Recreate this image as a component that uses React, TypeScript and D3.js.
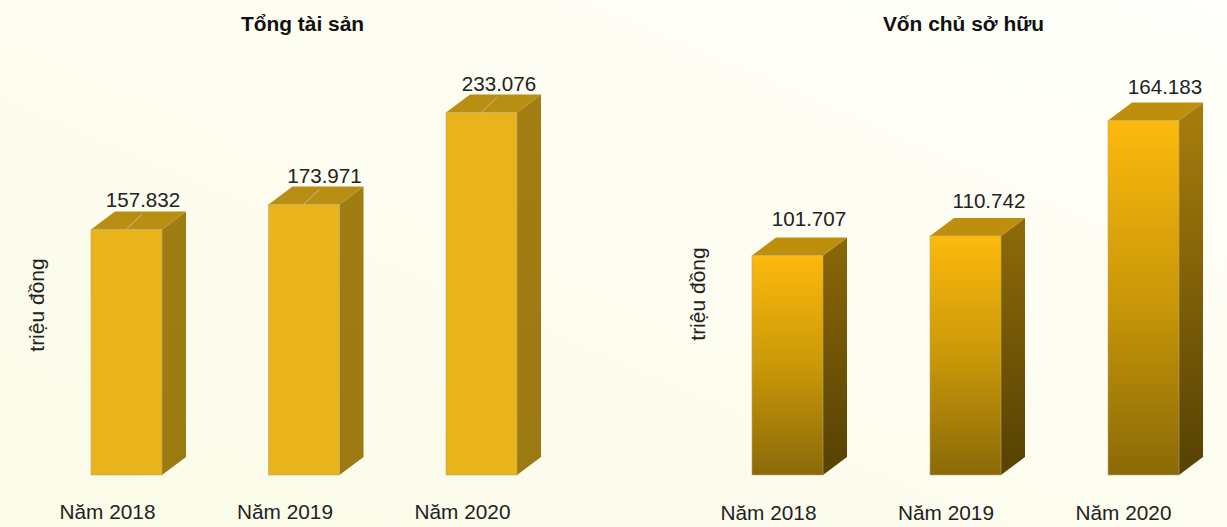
import React from "react";
import * as d3 from "d3";

const years = ["Năm 2018", "Năm 2019", "Năm 2020"];
const assetValues = [157832, 173971, 233076];
const equityValues = [101707, 110742, 164183];
const assetLabels = ["157.832", "173.971", "233.076"];
const equityLabels = ["101.707", "110.742", "164.183"];

const BASE_Y = 475;
const BAR_W = 71;
const DEPTH_X = 24;
const DEPTH_Y = 18;
const FONT = "'Liberation Sans', Arial, sans-serif";

type PanelProps = {
  id: string;
  title: string;
  titleX: number;
  values: number[];
  labels: string[];
  barLefts: [number, number];
  topY: number;
  axisX: number;
  axisY: number;
  yearXs: [number, number];
  yearY: number;
  labelShift: [number, number][];
  leader: boolean;
  front: [string, string, string];
  side: [string, string];
  top: string;
};

function Panel(p: PanelProps) {
  const x = d3.scalePoint<string>().domain(years).range(p.barLefts);
  const y = d3
    .scaleLinear()
    .domain([0, d3.max(p.values) as number])
    .range([BASE_Y, p.topY]);
  const yearX = d3.scalePoint<string>().domain(years).range(p.yearXs);

  const poly = (pts: [number, number][]) => {
    const c = d3.path();
    pts.forEach((q, i) => (i ? c.lineTo(q[0], q[1]) : c.moveTo(q[0], q[1])));
    c.closePath();
    return c.toString();
  };

  return (
    <g>
      <defs>
        <linearGradient id={`${p.id}-front`} x1="0" y1="0" x2="0" y2="1">
          <stop offset="0" stopColor={p.front[0]} />
          <stop offset="0.5" stopColor={p.front[1]} />
          <stop offset="1" stopColor={p.front[2]} />
        </linearGradient>
        {/* Side faces darken with height on one shared ramp across the panel */}
        <linearGradient
          id={`${p.id}-side`}
          gradientUnits="userSpaceOnUse"
          x1="0"
          y1={p.topY - DEPTH_Y}
          x2="0"
          y2={BASE_Y - DEPTH_Y}
        >
          <stop offset="0" stopColor={p.side[0]} />
          <stop offset="1" stopColor={p.side[1]} />
        </linearGradient>
      </defs>
      <text
        x={p.titleX}
        y={30.5}
        textAnchor="middle"
        fontFamily={FONT}
        fontWeight="bold"
        fontSize={20.9}
        fill="#111"
      >
        {p.title}
      </text>
      <text
        transform={`translate(${p.axisX},${p.axisY}) rotate(-90)`}
        textAnchor="middle"
        fontFamily={FONT}
        fontSize={21}
        fill="#222"
      >
        triệu đồng
      </text>
      {years.map((yr, i) => {
        const l = x(yr) as number;
        const r = l + BAR_W;
        const t = y(p.values[i]);
        const [dx, dy] = p.labelShift[i];
        return (
          <g key={yr}>
            <path
              d={poly([
                [r, t],
                [r + DEPTH_X, t - DEPTH_Y],
                [r + DEPTH_X, BASE_Y - DEPTH_Y],
                [r, BASE_Y],
              ])}
              fill={`url(#${p.id}-side)`}
            />
            <path
              d={poly([
                [l, t],
                [l + DEPTH_X, t - DEPTH_Y],
                [r + DEPTH_X, t - DEPTH_Y],
                [r, t],
              ])}
              fill={p.top}
            />
            <rect
              x={l}
              y={t}
              width={BAR_W}
              height={BASE_Y - t}
              fill={`url(#${p.id}-front)`}
              stroke="#b9a970"
              strokeWidth={0.6}
            />
            {p.leader && (
              <line
                x1={l + 35}
                y1={t}
                x2={l + 35 + 16}
                y2={t - 15}
                stroke="#c4bd9c"
                strokeWidth={1}
              />
            )}
            <text
              x={l + dx}
              y={t + dy}
              textAnchor="middle"
              fontFamily={FONT}
              fontSize={20.6}
              fill="#222"
            >
              {p.labels[i]}
            </text>
            <text
              x={yearX(yr)}
              y={p.yearY}
              textAnchor="middle"
              fontFamily={FONT}
              fontSize={20.8}
              fill="#222"
            >
              {yr}
            </text>
          </g>
        );
      })}
    </g>
  );
}

export default function App() {
  return (
    <svg
      width={1227}
      height={527}
      viewBox="0 0 1227 527"
      style={{ position: "fixed", left: 0, top: 0, display: "block" }}
    >
      <defs>
        <linearGradient id="page-bg" x1="0" y1="1" x2="1" y2="0">
          <stop offset="0" stopColor="#fbfbe8" />
          <stop offset="0.6" stopColor="#fdfdf2" />
          <stop offset="1" stopColor="#fffffb" />
        </linearGradient>
      </defs>
      <rect width={1227} height={527} fill="url(#page-bg)" />
      <Panel
        id="assets"
        title="Tổng tài sản"
        titleX={302.5}
        values={assetValues}
        labels={assetLabels}
        barLefts={[91, 446]}
        topY={112.5}
        axisX={44}
        axisY={305}
        yearXs={[107.5, 462.5]}
        yearY={519}
        labelShift={[
          [52, -23],
          [56, -21],
          [53, -21.5],
        ]}
        leader
        front={["#e9b31c", "#e9b31c", "#e9b31c"]}
        side={["#a27e13", "#9c7a12"]}
        top="#b88f12"
      />
      <Panel
        id="equity"
        title="Vốn chủ sở hữu"
        titleX={963.5}
        values={equityValues}
        labels={equityLabels}
        barLefts={[752, 1108]}
        topY={120.5}
        axisX={705}
        axisY={294}
        yearXs={[768.5, 1123.5]}
        yearY={520}
        labelShift={[
          [57, -29],
          [59, -28],
          [57, -27],
        ]}
        leader={false}
        front={["#fdb90d", "#ca9808", "#8a6a08"]}
        side={["#a87e0c", "#5a4404"]}
        top="#be8f0c"
      />
    </svg>
  );
}
